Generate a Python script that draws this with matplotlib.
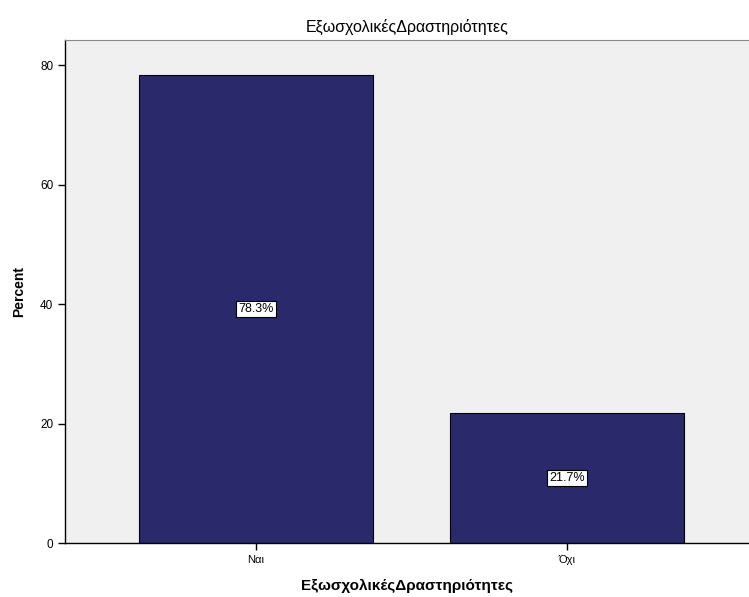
import matplotlib
matplotlib.use("Agg")
import matplotlib.pyplot as plt

categories = ["Ναι", "Όχι"]
percents = [78.3, 21.7]
labels = ["78.3%", "21.7%"]
yticks = [0, 20, 40, 60, 80]

plt.rcParams['font.family'] = ['Liberation Sans', 'DejaVu Sans']

fig = plt.figure(figsize=(7.49, 5.97), dpi=100)
ax = fig.add_axes([65/749, 1 - 543/597, 684/749, 503/597])
ax.set_facecolor('#F0F0F0')
x = list(range(len(categories)))
ax.bar(x, percents, width=0.752, color='#29296B', edgecolor='black', linewidth=0.8, zorder=2)
for xi, v, lab in zip(x, percents, labels):
    ax.text(xi, v / 2, lab, ha='center', va='center', fontsize=9, color='black', zorder=3,
            bbox=dict(boxstyle='square,pad=0.15', facecolor='white', edgecolor='black', linewidth=0.8))
ax.set_xlim(-0.614, 1.585)
ax.set_ylim(0, 84.2)
ax.set_xticks(x)
ax.set_xticklabels(categories, fontsize=8)
ax.set_yticks(yticks)
ax.set_yticklabels([str(t) for t in yticks], fontsize=8.5)
ax.tick_params(axis='both', length=5, width=1, color='black', direction='out')
for s in ['left', 'bottom']:
    ax.spines[s].set_color('black')
    ax.spines[s].set_linewidth(1.0)
ax.spines['top'].set_color('#888888')
ax.spines['right'].set_visible(False)
ax.set_ylabel('Percent', fontsize=10, fontweight='bold', labelpad=10)
ax.set_xlabel('ΕξωσχολικέςΔραστηριότητες', fontsize=11, fontweight='bold', labelpad=10)
ax.set_title('ΕξωσχολικέςΔραστηριότητες', fontsize=11.5, pad=6)
fig.savefig('out.png', dpi=100)
